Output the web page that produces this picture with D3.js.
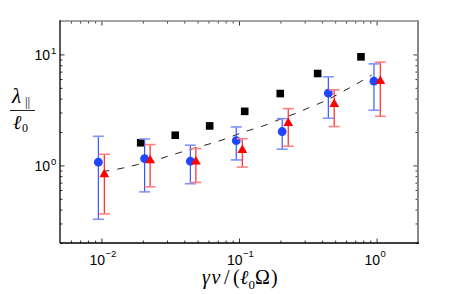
<!DOCTYPE html>
<html lang="en">
<head>
<meta charset="UTF-8" />
<title>lambda parallel vs gamma v</title>
<style>
  body { margin: 0; background: #fff; overflow: hidden; }
  svg { display: block; font-family: 'Liberation Sans', Arial, sans-serif; }
  .math { font-family: 'Liberation Serif', 'DejaVu Serif', serif; }
</style>
</head>
<body>
<svg width="463" height="294"></svg>
<script src="https://d3js.org/d3.v7.min.js"></script>
<script>
// blue circles
const blueX = [0.0095, 0.0206, 0.0443, 0.0955, 0.206, 0.446, 0.957];
const blueY = [1.07, 1.15, 1.09, 1.67, 2.02, 4.47, 5.74];
const blueHi = [1.83, 1.73, 1.52, 2.22, 2.64, 6.28, 8.22];
const blueLo = [0.327, 0.578, 0.684, 1.12, 1.40, 2.66, 3.14];

// red triangles
const redX = [0.0105, 0.0226, 0.0486, 0.1057, 0.228, 0.492, 1.064];
const redY = [0.83, 1.11, 1.08, 1.37, 2.40, 3.56, 5.74];
const redHi = [1.26, 1.54, 1.42, 1.74, 3.25, 4.79, 8.52];
const redLo = [0.366, 0.642, 0.702, 0.966, 1.49, 2.24, 2.77];

// black squares
const blackX = [0.0193, 0.0344, 0.0612, 0.110, 0.1995, 0.373, 0.770];
const blackY = [1.60, 1.87, 2.27, 3.07, 4.44, 6.73, 9.51];

// dashed curve
const fitX = [0.0102, 0.0108, 0.0141, 0.0182, 0.0241, 0.0310, 0.0405, 0.0538, 0.0698, 0.0904,
  0.1162, 0.1519, 0.1985, 0.2551, 0.3281, 0.4286, 0.542, 0.6965, 0.8656, 0.921];
const fitY = [0.877, 0.890, 0.938, 1.019, 1.095, 1.223, 1.348, 1.504, 1.625, 1.848,
  2.063, 2.265, 2.618, 2.905, 3.358, 3.804, 4.49, 5.302, 6.258, 6.482];

// tick labels
const xTicks = [0.01, 0.1, 1];
const xTickExp = ['\u22122', '\u22121', '0'];
const yTicks = [1, 10];
const yTickExp = ['0', '1'];

const svg = d3.select('svg'),
  margin = { top: 21, right: 45, bottom: 51, left: 60 },
  width = +svg.attr('width'),
  height = +svg.attr('height'),
  innerWidth = width - margin.left - margin.right,
  innerHeight = height - margin.top - margin.bottom;

const x = d3.scaleLog().domain([0.005, 2]).range([margin.left, margin.left + innerWidth]);
const y = d3.scaleLog().domain([0.2, 20]).range([margin.top + innerHeight, margin.top]);

const x0 = margin.left, x1 = margin.left + innerWidth,
  y0 = margin.top, y1 = margin.top + innerHeight;

// minor tick positions
const xMinor = [], yMinor = [];
[0.001, 0.01, 0.1, 1].forEach((d) => {
  for (let k = 2; k <= 9; k++) {
    const v = d * k;
    if (v > 0.005 && v < 2) xMinor.push(v);
  }
});
[0.1, 1, 10].forEach((d) => {
  for (let k = 2; k <= 9; k++) {
    const v = d * k;
    if (v >= 0.2 && v < 20) yMinor.push(v);
  }
});

function ticks(axis, tr, vals, size) {
  svg.append('g')
    .attr('transform', tr)
    .call(axis.tickValues(vals).tickSize(size).tickFormat(''))
    .call((g) => g.select('.domain').remove())
    .call((g) => g.selectAll('line').attr('stroke', '#000').attr('stroke-width', 0.8));
}

ticks(d3.axisBottom(x), `translate(0,${y1})`, xMinor, -2.5);
ticks(d3.axisBottom(x), `translate(0,${y1})`, xTicks, -4.5);
ticks(d3.axisTop(x), `translate(0,${y0})`, xMinor, -2.5);
ticks(d3.axisTop(x), `translate(0,${y0})`, xTicks, -4.5);
ticks(d3.axisLeft(y), `translate(${x0},0)`, yMinor, -2.5);
ticks(d3.axisLeft(y), `translate(${x0},0)`, yTicks, -4.5);
ticks(d3.axisRight(y), `translate(${x1},0)`, yMinor, -2.5);
ticks(d3.axisRight(y), `translate(${x1},0)`, yTicks, -4.5);

// frame
svg.append('line').attr('x1', x0).attr('x2', x1).attr('y1', y0).attr('y2', y0)
  .attr('stroke', '#888').attr('stroke-width', 1.6);
svg.append('line').attr('x1', x1).attr('x2', x1).attr('y1', y0 - 0.8).attr('y2', y1)
  .attr('stroke', '#888').attr('stroke-width', 2);
svg.append('line').attr('x1', x0).attr('x2', x1 + 1).attr('y1', y1).attr('y2', y1)
  .attr('stroke', '#000').attr('stroke-width', 1.3);
svg.append('line').attr('x1', x0).attr('x2', x0).attr('y1', y0 - 0.8).attr('y2', y1)
  .attr('stroke', '#000').attr('stroke-width', 1.3);

// tick labels: base "10" and exponent as separate texts
const xlab = svg.append('g');
xlab.selectAll('.base').data(xTicks).join('text').attr('class', 'base')
  .attr('x', (d) => x(d) - 12).attr('y', 265)
  .attr('font-size', 14).text('10');
xlab.selectAll('.exp').data(xTicks).join('text').attr('class', 'exp')
  .attr('x', (d) => x(d) + 4).attr('y', 257)
  .attr('font-size', 9.5).text((d, i) => xTickExp[i]);

const ylab = svg.append('g');
ylab.selectAll('.base').data(yTicks).join('text').attr('class', 'base')
  .attr('x', 50).attr('y', (d) => y(d) + 6)
  .attr('text-anchor', 'end')
  .attr('font-size', 14).text('10');
ylab.selectAll('.exp').data(yTicks).join('text').attr('class', 'exp')
  .attr('x', 51).attr('y', (d) => y(d) - 0.5)
  .attr('font-size', 9.5).text((d, i) => yTickExp[i]);

// dashed curve
const line = d3.line().x((d) => x(d[0])).y((d) => y(d[1])).curve(d3.curveBasis);
svg.append('path')
  .datum(fitX.map((d, i) => [d, fitY[i]]))
  .attr('d', line)
  .attr('fill', 'none')
  .attr('stroke', '#222')
  .attr('stroke-width', 1)
  .attr('stroke-dasharray', '7,8');

// black squares
svg.append('g').selectAll('rect').data(blackX).join('rect')
  .attr('x', (d) => x(d) - 3.8)
  .attr('y', (d, i) => y(blackY[i]) - 3.8)
  .attr('width', 7.6)
  .attr('height', 7.6)
  .attr('fill', '#000');

function errorBars(xs, lo, hi, color, capColor) {
  const g = svg.append('g');
  g.selectAll('.bar').data(xs).join('line')
    .attr('x1', (d) => x(d)).attr('x2', (d) => x(d))
    .attr('y1', (d, i) => y(lo[i])).attr('y2', (d, i) => y(hi[i]))
    .attr('stroke', color).attr('stroke-width', 1.2);
  [lo, hi].forEach((arr) => {
    g.selectAll(null).data(xs).join('line')
      .attr('x1', (d) => x(d) - 5.5).attr('x2', (d) => x(d) + 5.5)
      .attr('y1', (d, i) => y(arr[i])).attr('y2', (d, i) => y(arr[i]))
      .attr('stroke', capColor).attr('stroke-width', 1.6);
  });
  return g;
}

errorBars(blueX, blueLo, blueHi, '#3557ff', '#7f93ff');
svg.append('g').selectAll('circle').data(blueX).join('circle')
  .attr('cx', (d) => x(d))
  .attr('cy', (d, i) => y(blueY[i]))
  .attr('r', 4.4)
  .attr('fill', '#1f45ff');

errorBars(redX, redLo, redHi, '#ff2626', '#ff8080');
svg.append('g').selectAll('path').data(redX).join('path')
  .attr('transform', (d, i) => `translate(${x(d)},${y(redY[i])})`)
  .attr('d', d3.symbol(d3.symbolTriangle, 42))
  .attr('fill', '#ff0000');

// axis titles
const yt = svg.append('g').attr('class', 'math');
yt.append('text').attr('x', 12).attr('y', 103).attr('font-size', 21).attr('font-style', 'italic').text('\u03bb');
yt.append('text').attr('x', 25).attr('y', 106).attr('font-size', 13).text('||');
yt.append('line').attr('x1', 10).attr('x2', 35).attr('y1', 110.5).attr('y2', 110.5)
  .attr('stroke', '#222').attr('stroke-width', 1);
yt.append('text').attr('x', 13).attr('y', 129).attr('font-size', 20).attr('font-style', 'italic').text('\u2113');
yt.append('text').attr('x', 22).attr('y', 132).attr('font-size', 12).text('0');

const xt = svg.append('text').attr('class', 'math').attr('font-size', 20).attr('y', 284);
xt.append('tspan').attr('x', 202).attr('font-style', 'italic').text('\u03b3');
xt.append('tspan').attr('x', 211.5).attr('font-style', 'italic').text('v');
xt.append('tspan').attr('x', 224).text('/');
xt.append('tspan').attr('x', 233).text('(');
xt.append('tspan').attr('x', 240).attr('font-style', 'italic').text('\u2113');
xt.append('tspan').attr('x', 248.5).attr('y', 289).attr('font-size', 13).text('0');
xt.append('tspan').attr('x', 255).attr('y', 284).text('\u03a9');
xt.append('tspan').attr('x', 271).text(')');
</script>
</body>
</html>
